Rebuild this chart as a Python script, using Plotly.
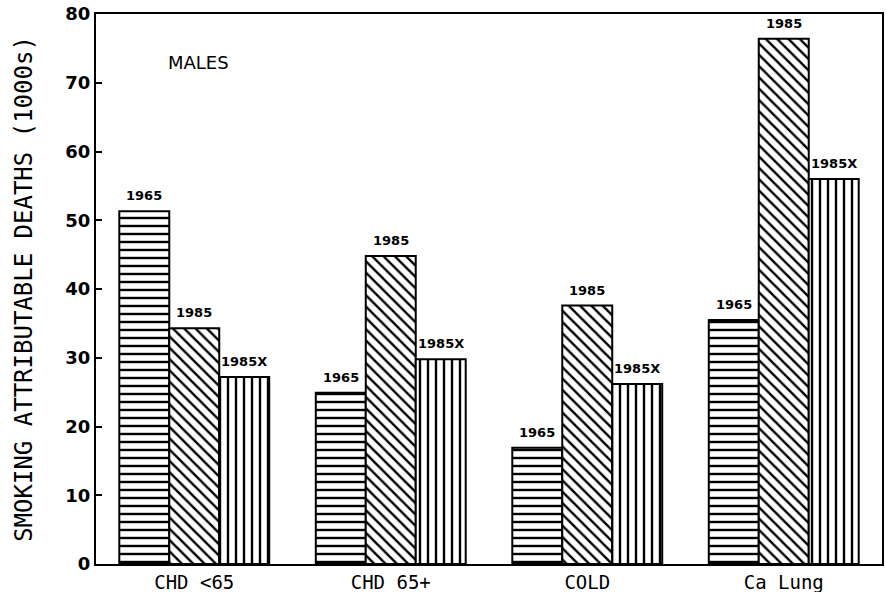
import plotly.graph_objects as go

categories = ["CHD <65", "CHD 65+", "COLD", "Ca Lung"]
series_names = ["1965", "1985", "1985X"]
values_1965 = [51.3, 24.9, 16.9, 35.5]
values_1985 = [34.3, 44.8, 37.6, 76.4]
values_1985x = [27.2, 29.8, 26.2, 56.0]
y_ticks = [0, 10, 20, 30, 40, 50, 60, 70, 80]

patterns = ["-", "\\", "|"]
all_values = [values_1965, values_1985, values_1985x]

fig = go.Figure()
for name, vals, pat in zip(series_names, all_values, patterns):
    fig.add_trace(go.Bar(
        x=categories, y=vals, name=name,
        marker=dict(
            color="white",
            line=dict(color="black", width=2),
            pattern=dict(shape=pat, fgcolor="black", bgcolor="white",
                         size=8, solidity=0.3, fillmode="replace"),
        ),
    ))

# bar labels placed above each bar (offset by the bar slot within a group)
bar_px = 50
for i, (name, vals) in enumerate(zip(series_names, all_values)):
    for cat, v in zip(categories, vals):
        fig.add_annotation(
            x=cat, y=v, xref="x", yref="y", text=name, showarrow=False,
            xshift=(i - 1) * bar_px, yshift=6, yanchor="bottom",
            font=dict(family="DejaVu Sans", size=13, color="black", weight="bold"),
        )

fig.add_annotation(x=0.02, y=72.9, xref="x", yref="y", text="MALES",
                   showarrow=False,
                   font=dict(family="DejaVu Sans", size=18, color="black"))

fig.update_layout(
    width=886, height=592,
    margin=dict(l=96, r=4, t=14, b=28),
    paper_bgcolor="white", plot_bgcolor="white",
    barmode="group", bargap=0.237, bargroupgap=0,
    showlegend=False,
    font=dict(family="DejaVu Sans", color="black"),
    xaxis=dict(
        range=[-0.5, 3.5], showline=True, linecolor="black", linewidth=2,
        mirror=True, ticks="", showgrid=False, automargin=False,
        tickfont=dict(family="DejaVu Sans Mono", size=19),
    ),
    yaxis=dict(
        range=[0, 80], tickvals=y_ticks, showline=True, linecolor="black",
        linewidth=2, mirror=True, ticks="inside", ticklen=6, tickwidth=2,
        tickcolor="black", showgrid=False, zeroline=False, automargin=False,
        tickfont=dict(family="DejaVu Sans", size=18, weight="bold"),
        title=dict(text="SMOKING ATTRIBUTABLE DEATHS (1000s)",
                   font=dict(family="DejaVu Sans Mono", size=24), standoff=26),
    ),
)

fig.write_html("out.html", config={"displayModeBar": False},
               post_script="document.body.style.margin='0';document.body.style.overflow='hidden';")
